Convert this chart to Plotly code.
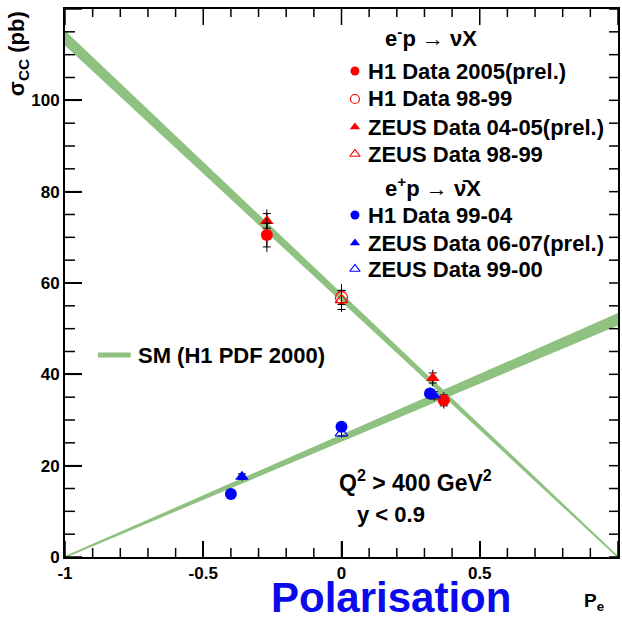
import numpy as np
import plotly.graph_objects as go

# ---------------- data ----------------
# Standard Model band (H1 PDF 2000): lower / upper edge at P = -1 and P = +1
pol_ends = [-1.0, 1.0]
sm_em_lo = [112.3, 0.0]    # e-p -> nu X
sm_em_hi = [115.0, 0.0]
sm_ep_lo = [0.0, 50.9]     # e+p -> nubar X
sm_ep_hi = [0.0, 53.2]

# e-p measurements
h1_05_pol = [-0.27, 0.37]
h1_05_sig = [70.5, 34.3]
h1_05_stat = [2.6, 1.2]
h1_05_tot = [3.7, 1.8]

h1_9899_pol = [0.0]
h1_9899_sig = [56.8]
h1_9899_stat = [1.5]
h1_9899_tot = [3.0]

zeus_0405_pol = [-0.27, 0.33]
zeus_0405_sig = [73.6, 39.2]
zeus_0405_stat = [1.6, 1.1]
zeus_0405_tot = [2.5, 1.8]

zeus_9899_pol = [0.0]
zeus_9899_sig = [56.3]
zeus_9899_stat = [2.1]
zeus_9899_tot = [2.6]

# e+p measurements
h1_9904_pol = [-0.40, 0.0, 0.32]
h1_9904_sig = [13.8, 28.5, 35.8]
h1_9904_stat = [0.6, 0.6, 0.9]
h1_9904_tot = [0.9, 0.9, 1.3]

zeus_0607_pol = [-0.36, 0.335]
zeus_0607_sig = [17.6, 35.4]
zeus_0607_stat = [0.6, 0.8]
zeus_0607_tot = [0.9, 1.2]

zeus_9900_pol = [0.0]
zeus_9900_sig = [27.1]
zeus_9900_stat = [0.6]
zeus_9900_tot = [0.9]

x_tick_vals = [-1, -0.5, 0, 0.5, 1]
x_tick_text = ["-1", "-0.5", "0", "0.5", "1"]
y_tick_vals = [0, 20, 40, 60, 80, 100, 120]
y_tick_text = ["0", "20", "40", "60", "80", "100", "120"]
x_minor_step = 0.1
y_minor_step = 5

legend_labels = [
    "H1 Data 2005(prel.)", "H1 Data 98-99", "ZEUS Data 04-05(prel.)", "ZEUS Data 98-99",
    "H1 Data 99-04", "ZEUS Data 06-07(prel.)", "ZEUS Data 99-00",
]
legend_headers = ["e<sup>-</sup>p → νX", "e<sup>+</sup>p → ν̄X"]
sm_label = "SM (H1 PDF 2000)"

# ---------------- layout geometry (pixels) ----------------
W, H = 622, 621
X0, X1, Y0, Y1 = 65, 620, 9, 557
XMIN, XMAX, YMIN, YMAX = -1.0, 1.0, 0.0, 120.0
X_PER_PX = (XMAX - XMIN) / (X1 - X0)
Y_PER_PX = (YMAX - YMIN) / (Y1 - Y0)
GREEN = "rgb(143,194,128)"
RED = "rgb(255,0,0)"
BLUE = "rgb(0,0,255)"
FONT = "Liberation Sans, Arial, sans-serif"


def fx(px):
    return (px - X0) / (X1 - X0)


def fy(py):
    return (Y1 - py) / (Y1 - Y0)


def dx(px):
    return XMIN + (XMAX - XMIN) * fx(px)


def dy(py):
    return YMIN + (YMAX - YMIN) * fy(py)


fig = go.Figure()


def band(lo, hi):
    fig.add_trace(go.Scatter(
        x=pol_ends + pol_ends[::-1], y=hi + lo[::-1], fill="toself",
        fillcolor=GREEN, line=dict(color=GREEN, width=1.8), mode="lines",
        showlegend=False, hoverinfo="skip"))


band(sm_em_lo, sm_em_hi)
band(sm_ep_lo, sm_ep_hi)


def series(pol, sig, stat, tot, symbol, color, size=12):
    # total uncertainty: plain line
    fig.add_trace(go.Scatter(
        x=pol, y=sig, mode="markers", marker=dict(size=1, opacity=0),
        error_y=dict(type="data", array=tot, color="black", thickness=1, width=0),
        showlegend=False, hoverinfo="skip"))
    # statistical uncertainty with end marks
    hollow = symbol.endswith("-open")
    fig.add_trace(go.Scatter(
        x=pol, y=sig, mode="markers",
        marker=dict(symbol=symbol, size=size, color=color,
                    line=dict(color=color, width=1.2 if hollow else 0)),
        error_y=dict(type="data", array=stat, color="black", thickness=1, width=4),
        showlegend=False))


series(h1_9899_pol, h1_9899_sig, h1_9899_stat, h1_9899_tot, "circle-open", RED)
series(zeus_9899_pol, zeus_9899_sig, zeus_9899_stat, zeus_9899_tot, "triangle-up-open", RED, 11)
series(zeus_9900_pol, zeus_9900_sig, zeus_9900_stat, zeus_9900_tot, "triangle-up-open", BLUE, 11)
series(zeus_0405_pol, zeus_0405_sig, zeus_0405_stat, zeus_0405_tot, "triangle-up", RED)
series(h1_05_pol, h1_05_sig, h1_05_stat, h1_05_tot, "circle", RED)
series(zeus_0607_pol, zeus_0607_sig, zeus_0607_stat, zeus_0607_tot, "triangle-up", BLUE)
series(h1_9904_pol, h1_9904_sig, h1_9904_stat, h1_9904_tot, "circle", BLUE)

# ---------------- frame tick marks (ROOT style, pointing inwards) ----------------
x_minor = [float(v) for v in np.round(np.arange(XMIN, XMAX + 1e-9, x_minor_step), 3)
           if v not in x_tick_vals]
y_minor = [float(v) for v in np.arange(YMIN, YMAX + 1e-9, y_minor_step)
           if v not in y_tick_vals]

shapes = []
TICK_LINE = dict(color="black", width=1.5)


def vticks(vals, edge, length_px, direction):
    # vertical tick segments on the bottom / top frame edge
    for v in vals:
        shapes.append(dict(type="line", xref="x", yref="y", layer="above",
                           x0=v, x1=v, y0=edge, y1=edge + direction * length_px * Y_PER_PX,
                           line=TICK_LINE))


def hticks(vals, edge, length_px, direction):
    # horizontal tick segments on the left / right frame edge
    for v in vals:
        shapes.append(dict(type="line", xref="x", yref="y", layer="above",
                           x0=edge, x1=edge + direction * length_px * X_PER_PX, y0=v, y1=v,
                           line=TICK_LINE))


vticks(x_tick_vals, YMIN, 16, +1)
vticks(x_minor, YMIN, 9, +1)
vticks(x_tick_vals, YMAX, 16, -1)
vticks(x_minor, YMAX, 8, -1)
hticks(y_tick_vals, XMIN, 17, +1)
hticks(y_minor, XMIN, 10, +1)
hticks(y_tick_vals, XMAX, 9, -1)
hticks(y_minor, XMAX, 9, -1)

# ---------------- hand-made legend ----------------
leg_symbols = ["circle", "circle-open", "triangle-up", "triangle-up-open",
               "circle", "triangle-up", "triangle-up-open"]
leg_colors = [RED, RED, RED, RED, BLUE, BLUE, BLUE]
leg_rows = [71, 99, 127, 154, 215, 243, 269]
header_rows = [37, 187]

for sym, col, row in zip(leg_symbols, leg_colors, leg_rows):
    fig.add_trace(go.Scatter(
        x=[dx(356)], y=[dy(row)], mode="markers",
        marker=dict(symbol=sym, size=9, color=col,
                    line=dict(color=col, width=1.2 if sym.endswith("-open") else 0)),
        showlegend=False, hoverinfo="skip"))

fig.add_trace(go.Scatter(
    x=[dx(98), dx(131)], y=[dy(355), dy(355)], mode="lines",
    line=dict(color=GREEN, width=5), showlegend=False, hoverinfo="skip"))

annotations = []


def label(px, py, text, size=22, color="black", xanchor="left", angle=0):
    annotations.append(dict(
        x=fx(px), y=fy(py), xref="paper", yref="paper", text=f"<b>{text}</b>",
        showarrow=False, xanchor=xanchor, yanchor="middle", textangle=angle,
        font=dict(family=FONT, size=size, color=color)))


for text, row in zip(legend_labels, leg_rows):
    label(367, row, text)
for text, row in zip(legend_headers, header_rows):
    label(384, row, text)
label(136, 355, sm_label)
label(338, 481, "Q<sup>2</sup> > 400 GeV<sup>2</sup>", size=23)
label(356, 514, "y < 0.9", size=22)
label(392, 597, "Polarisation", size=42, color="rgb(10,10,235)", xanchor="center")
label(584, 602, "P<sub>e</sub>", size=19)
label(18, 54, "σ<sub>CC</sub> (pb)", size=22, xanchor="center", angle=-90)

fig.update_layout(
    width=W, height=H, margin=dict(l=X0, r=W - X1, t=Y0, b=H - Y1),
    paper_bgcolor="white", plot_bgcolor="white", showlegend=False,
    annotations=annotations, shapes=shapes,
)
fig.update_xaxes(
    range=[XMIN, XMAX], tickmode="array", tickvals=x_tick_vals,
    ticktext=[f"<b>{t}</b>" for t in x_tick_text],
    ticks="inside", ticklen=16, tickwidth=1.5, tickcolor="black",
    showline=True, linewidth=2, linecolor="#000000", mirror=True,
    showgrid=False, zeroline=False,
    tickfont=dict(family=FONT, size=17, color="#000000"),
)
fig.update_yaxes(
    range=[YMIN, YMAX], tickmode="array", tickvals=y_tick_vals,
    ticktext=[f"<b>{t}</b>" for t in y_tick_text],
    ticks="inside", ticklen=17, tickwidth=1.5, tickcolor="black",
    showline=True, linewidth=2, linecolor="#000000", mirror=True,
    showgrid=False, zeroline=False,
    tickfont=dict(family=FONT, size=17, color="#000000"),
)

fig.write_html("out.html")
